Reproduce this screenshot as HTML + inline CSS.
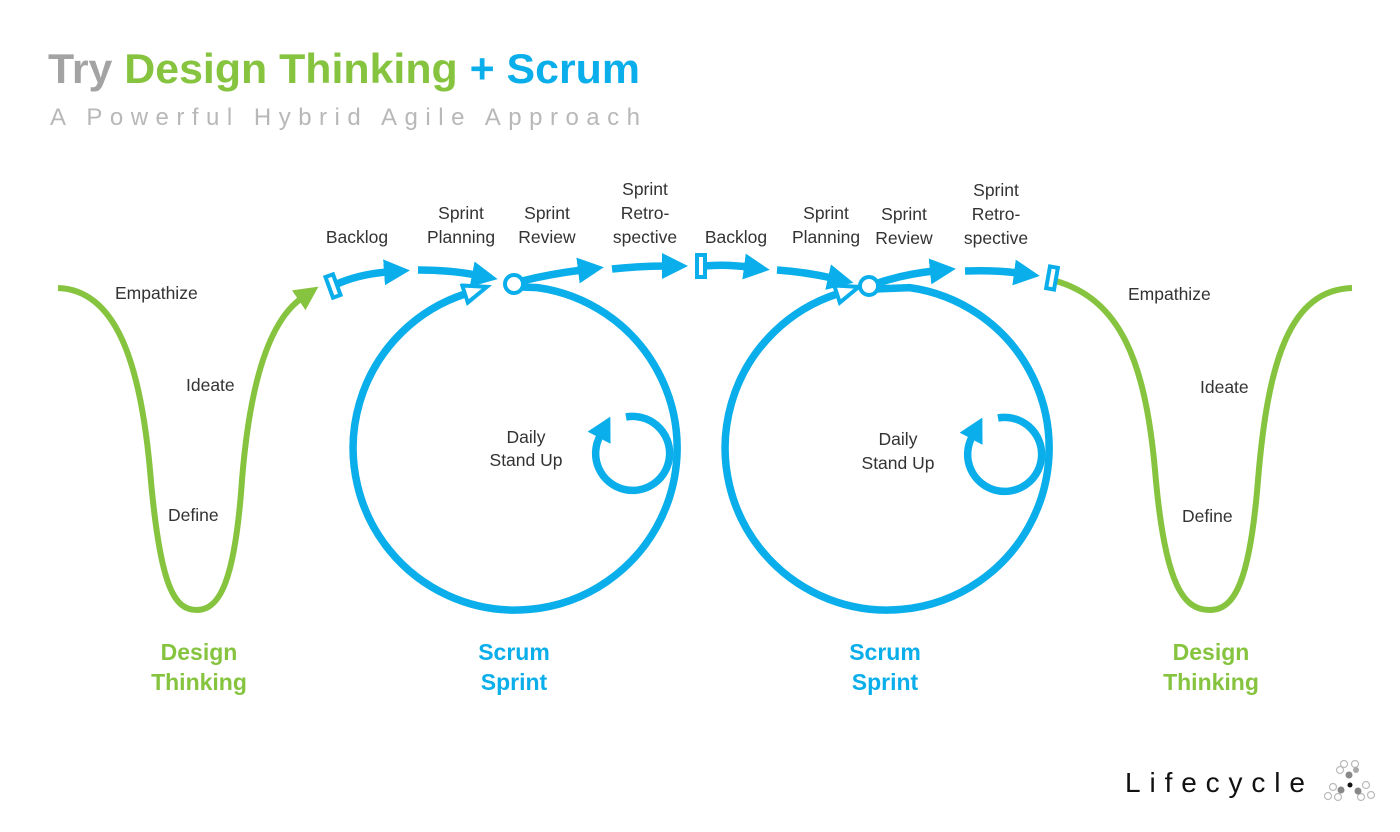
<!DOCTYPE html>
<html><head><meta charset="utf-8"><style>
html,body{margin:0;padding:0;background:#fff;}
svg{display:block;}
text{font-family:"Liberation Sans",sans-serif;}
.l{font-size:17.5px;fill:#333;text-anchor:middle;}
.ll{font-size:17.5px;fill:#333;}
.g{font-size:23px;font-weight:bold;fill:#86c440;text-anchor:middle;}
.b{font-size:23px;font-weight:bold;fill:#0aaeea;text-anchor:middle;}
</style></head><body>
<svg width="1400" height="832" viewBox="0 0 1400 832">
<defs>
<marker id="ab" markerUnits="userSpaceOnUse" markerWidth="30" markerHeight="30" refX="4" refY="13" orient="auto">
<polygon points="0,0 26,13 0,26" fill="#0aaeea"/></marker>
<marker id="ag" markerUnits="userSpaceOnUse" markerWidth="30" markerHeight="30" refX="4" refY="12" orient="auto">
<polygon points="0,0 24,12 0,24" fill="#86c440"/></marker>
<marker id="ah" markerUnits="userSpaceOnUse" markerWidth="30" markerHeight="30" refX="2" refY="11" orient="auto">
<polygon points="2,2 25,11 2,20" fill="#fff" stroke="#0aaeea" stroke-width="4"/></marker>
<marker id="as" markerUnits="userSpaceOnUse" markerWidth="30" markerHeight="30" refX="2" refY="13" orient="auto">
<polygon points="0,0 24,13 0,26" fill="#0aaeea"/></marker>
</defs>

<text x="48" y="83" font-size="42" font-weight="bold" textLength="592" lengthAdjust="spacingAndGlyphs"><tspan fill="#a3a3a3">Try </tspan><tspan fill="#86c440">Design Thinking </tspan><tspan fill="#0aaeea">+ Scrum</tspan></text>
<text x="50" y="125" font-size="24" fill="#b8b8b8" textLength="590" lengthAdjust="spacing">A Powerful Hybrid Agile Approach</text>

<g fill="none" stroke-linecap="butt">
<path d="M58,288 C115,290 140,360 150,470 C160,590 175,610 197,610 C220,610 235,580 242,480 C250,380 270,320 302,298" stroke="#86c440" stroke-width="6" marker-end="url(#ag)"/>
<path d="M1056,281 C1120,300 1145,360 1155,470 C1165,590 1185,610 1210,610 C1235,610 1250,580 1258,480 C1268,360 1290,290 1352,288" stroke="#86c440" stroke-width="6"/>

<g stroke="#0aaeea" stroke-width="7.5">
<path d="M337,284 Q360,274 388,272" marker-end="url(#ab)"/>
<path d="M418,270 Q450,270 476,275" marker-end="url(#ab)"/>
<path d="M522,281 Q550,274 582,270" marker-end="url(#ab)"/>
<path d="M612,269 Q640,266 666,266" marker-end="url(#ab)"/>
<path d="M704,266 Q725,264 748,267" marker-end="url(#ab)"/>
<path d="M777,270 Q805,272 832,278" marker-end="url(#ab)"/>
<path d="M878,283 Q905,274 934,271" marker-end="url(#ab)"/>
<path d="M965,271 Q995,270 1018,273" marker-end="url(#ab)"/>

<path d="M521,287 L537.5,287.6 A162,162 0 1 1 465,294" marker-end="url(#ah)"/>
<path d="M876,289 L909.5,287.6 A162,162 0 1 1 837,294" marker-end="url(#ah)"/>
<path d="M626,417 A37,37 0 1 1 600,436" marker-end="url(#as)"/>
<path d="M998,418 A37,37 0 1 1 972,437" marker-end="url(#as)"/>
</g>
<g stroke="#0aaeea" stroke-width="4" fill="#fff">
<circle cx="514" cy="284" r="9"/>
<circle cx="869" cy="286" r="9"/>
<rect x="-4" y="-11" width="8" height="22" transform="translate(333,286) rotate(-20)"/>
<rect x="-4" y="-11" width="8" height="22" transform="translate(701,266)"/>
<rect x="-4" y="-11" width="8" height="22" transform="translate(1052,278) rotate(10)"/>
</g>
</g>

<text class="l" x="357" y="243">Backlog</text>
<text class="l" x="461" y="219">Sprint</text><text class="l" x="461" y="243">Planning</text>
<text class="l" x="547" y="219">Sprint</text><text class="l" x="547" y="243">Review</text>
<text class="l" x="645" y="195">Sprint</text><text class="l" x="645" y="219">Retro-</text><text class="l" x="645" y="243">spective</text>
<text class="l" x="736" y="243">Backlog</text>
<text class="l" x="826" y="219">Sprint</text><text class="l" x="826" y="243">Planning</text>
<text class="l" x="904" y="220">Sprint</text><text class="l" x="904" y="244">Review</text>
<text class="l" x="996" y="196">Sprint</text><text class="l" x="996" y="220">Retro-</text><text class="l" x="996" y="244">spective</text>

<text class="ll" x="115" y="299">Empathize</text>
<text class="ll" x="186" y="391">Ideate</text>
<text class="ll" x="168" y="521">Define</text>
<text class="ll" x="1128" y="300">Empathize</text>
<text class="ll" x="1200" y="393">Ideate</text>
<text class="ll" x="1182" y="522">Define</text>

<text class="l" x="526" y="443">Daily</text><text class="l" x="526" y="466">Stand Up</text>
<text class="l" x="898" y="445">Daily</text><text class="l" x="898" y="469">Stand Up</text>

<text class="g" x="199" y="660">Design</text><text class="g" x="199" y="690">Thinking</text>
<text class="b" x="514" y="660">Scrum</text><text class="b" x="514" y="690">Sprint</text>
<text class="b" x="885" y="660">Scrum</text><text class="b" x="885" y="690">Sprint</text>
<text class="g" x="1211" y="660">Design</text><text class="g" x="1211" y="690">Thinking</text>

<text x="1125" y="792" font-size="28" fill="#111" textLength="180" lengthAdjust="spacing">Lifecycle</text>
<g stroke="#bbb" stroke-width="1.2" fill="none">
<circle cx="1344" cy="764" r="3.5"/><circle cx="1355" cy="764" r="3.5"/><circle cx="1340" cy="770" r="3.5"/>
<circle cx="1333" cy="787" r="3.5"/><circle cx="1328" cy="796" r="3.5"/><circle cx="1338" cy="797" r="3.5"/>
<circle cx="1366" cy="785" r="3.5"/><circle cx="1371" cy="795" r="3.5"/><circle cx="1361" cy="797" r="3.5"/>
</g>
<g fill="#888"><circle cx="1349" cy="775" r="3.5"/><circle cx="1356" cy="770" r="3" fill="#aaa"/><circle cx="1341" cy="790" r="3.5"/><circle cx="1358" cy="791" r="3.5"/></g>
<circle cx="1350" cy="785" r="2.5" fill="#111"/>
</svg>
</body></html>
